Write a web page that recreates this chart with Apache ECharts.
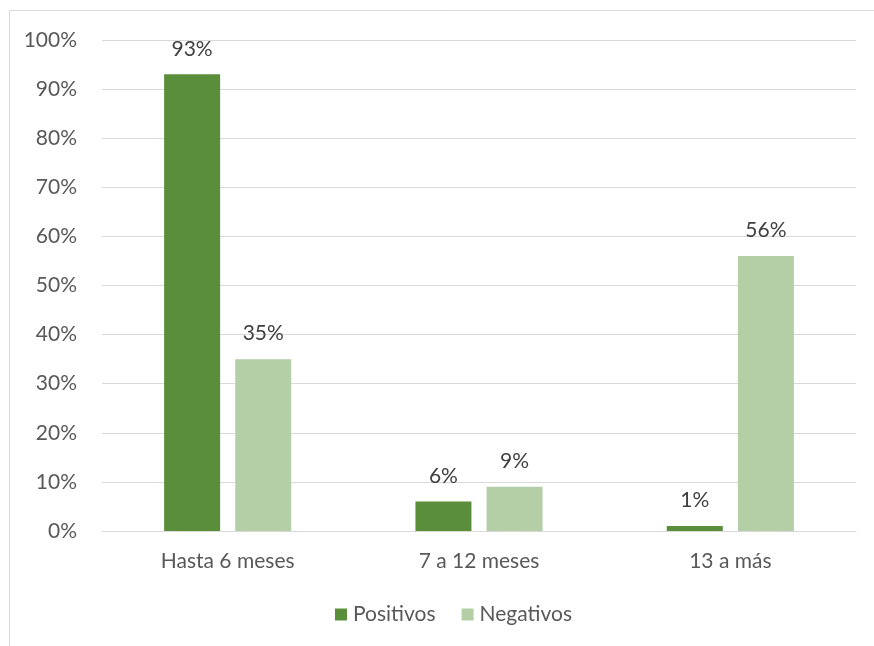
<!DOCTYPE html>
<html>
<head>
<meta charset="utf-8">
<script src="https://cdn.jsdelivr.net/npm/echarts@6/dist/echarts.min.js"></script>
<style>
  html, body { margin: 0; padding: 0; background: #fff; }
  #chart { width: 874px; height: 646px; }
</style>
</head>
<body>
<div id="chart"></div>
<script>
// Time since test, share of positive and negative results
const categories = ['Hasta 6 meses', '7 a 12 meses', '13 a más'];
const positivos = [93, 6, 1];
const negativos = [35, 9, 56];
const yTicks = [0, 10, 20, 30, 40, 50, 60, 70, 80, 90, 100];

const FONT = 'Lato, "Open Sans", sans-serif';
const FS = 21;
const chart = echarts.init(document.getElementById('chart'));

const labelStyle = {
  show: true,
  position: 'top',
  distance: 15,
  color: '#404040',
  fontSize: FS,
  fontFamily: FONT,
  formatter: p => p.value + '%'
};

chart.setOption({
  backgroundColor: '#fff',
  animation: false,
  textStyle: { fontFamily: FONT },
  graphic: [{
    type: 'polyline',
    shape: { points: [[9.5, 646], [9.5, 10.5], [874, 10.5]] },
    style: { stroke: '#d9d9d9', lineWidth: 1, fill: null },
    silent: true
  }],
  grid: { left: 102, right: 18, top: 40, bottom: 115 },
  legend: {
    bottom: 16,
    left: 330,
    itemWidth: 12,
    itemHeight: 12,
    itemGap: 26,
    icon: 'rect',
    textStyle: { color: '#595959', fontSize: FS, fontFamily: FONT, padding: [0, 0, 0, 1] },
    data: ['Positivos', 'Negativos']
  },
  xAxis: {
    type: 'category',
    data: categories,
    axisLine: { lineStyle: { color: '#d9d9d9', width: 1 } },
    axisTick: { show: false },
    axisLabel: { color: '#595959', fontSize: FS, fontFamily: FONT, margin: 20 }
  },
  yAxis: {
    type: 'value',
    min: yTicks[0],
    max: yTicks[yTicks.length - 1],
    interval: 10,
    axisLine: { show: false },
    axisTick: { show: false },
    splitLine: { lineStyle: { color: '#d9d9d9', width: 1 } },
    axisLabel: { color: '#595959', fontSize: FS, fontFamily: FONT, margin: 25, formatter: v => v + '%' }
  },
  series: [
    {
      name: 'Positivos',
      type: 'bar',
      data: positivos,
      barWidth: 56,
      barGap: '27%',
      itemStyle: { color: '#5b8e3a' },
      label: labelStyle
    },
    {
      name: 'Negativos',
      type: 'bar',
      data: negativos,
      barWidth: 56,
      itemStyle: { color: '#b4cfa6' },
      label: labelStyle
    }
  ]
});
</script>
</body>
</html>
